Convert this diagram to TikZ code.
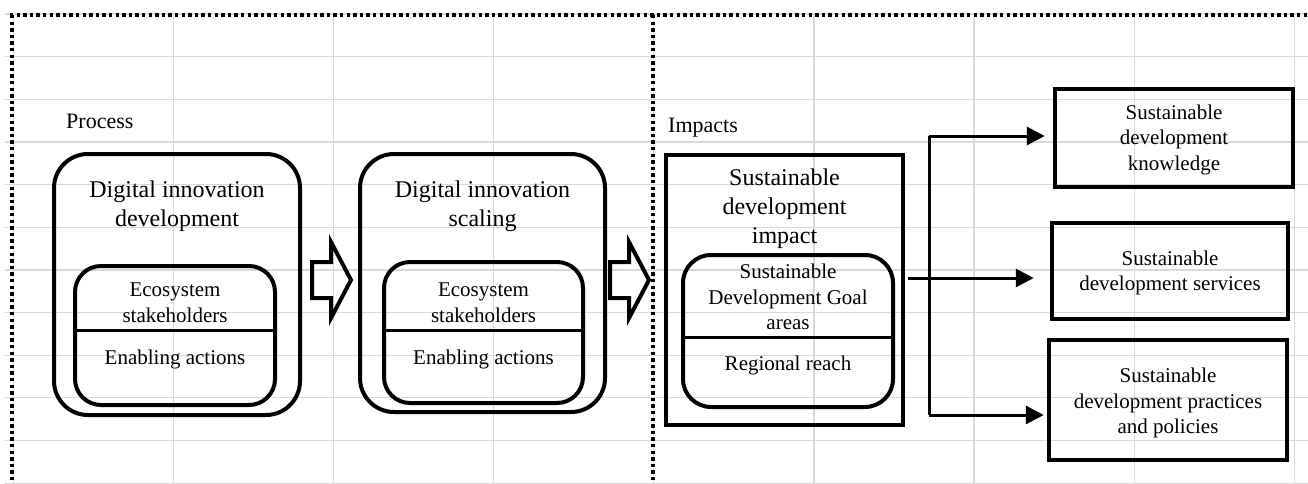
\documentclass[tikz,border=0pt]{standalone}
\usepackage{fontspec}
\setmainfont{Liberation Serif}
\usetikzlibrary{arrows.meta}

\begin{document}
\begin{tikzpicture}[x=1pt,y=-1pt,
  gridline/.style={draw=black!15, line width=1.2pt},
  framedots/.style={line width=3.5pt, dash pattern=on 3.4pt off 3.2pt},
  outerbox/.style={draw, line width=4pt, rounded corners=34pt, inner sep=0pt},
  innerbox/.style={draw, line width=4pt, rounded corners=26pt, inner sep=0pt},
  plainbox/.style={draw, line width=4.5pt, inner sep=0pt},
  divider/.style={line width=3pt},
  title/.style={align=center, font=\fontsize{24}{29}\selectfont, inner sep=0pt},
  sectionlabel/.style={font=\fontsize{22}{26}\selectfont, inner sep=0pt, anchor=west},
  body/.style={align=center, font=\fontsize{21}{25.5}\selectfont, inner sep=0pt},
  blockarrow/.style={draw, line width=4pt, line join=miter},
  link/.style={line width=3pt, -{Triangle[length=18pt,width=18pt]}},
  trunk/.style={line width=3pt},
]
\useasboundingbox (0,0) rectangle (1308,484);

% spreadsheet grid in the background
\foreach \i in {0,...,8}
  \draw[gridline] ({13.4+160.1*\i},14) -- ({13.4+160.1*\i},484);
\foreach \j in {0,...,11}
  \draw[gridline] (5,{14+42.65*\j}) -- (1308,{14+42.65*\j});

% dotted frame: process part and impacts part
\draw[framedots] (10,15) -- (1308,15);
\draw[framedots] (12,15) -- (12,484);
\draw[framedots] (653,15) -- (653,484);

% ---------- process ----------
\node[sectionlabel] (proc) at (66,121) {Process};

\node[outerbox, minimum width=246pt, minimum height=261pt] (dev) at (177,284.5) {};
\node[title] (devt) at (177,206) {Digital innovation\\development};
\node[innerbox, minimum width=200pt, minimum height=139pt] (devin) at (175,335.5) {};
\node[body] (deveco) at (175,302.5) {Ecosystem\\stakeholders};
\node[body] (devact) at (175,359) {Enabling actions};
\coordinate (dvy) at (0,330);
\draw[divider] (devin.west |- dvy) -- (devin.east |- dvy);

\node[outerbox, minimum width=245pt, minimum height=258pt] (scl) at (482.5,283) {};
\node[title] (sclt) at (482.5,206) {Digital innovation\\scaling};
\node[innerbox, minimum width=199pt, minimum height=141pt] (sclin) at (483.5,332.5) {};
\node[body] (scleco) at (483.5,302.5) {Ecosystem\\stakeholders};
\node[body] (sclact) at (483.5,359) {Enabling actions};
\draw[divider] (sclin.west |- dvy) -- (sclin.east |- dvy);

% block arrows between the stages
\coordinate (ba1) at (312,280);
\coordinate (ba2) at (610,280);
\foreach \c in {ba1,ba2}
  \draw[blockarrow] (\c) ++(0,-18) -- ++(19,0) -- ++(0,-20) -- ++(20,38)
    -- ++(-20,38) -- ++(0,-20) -- ++(-19,0) -- cycle;

% ---------- impacts ----------
\node[sectionlabel] (imp) at (668,128) {Impacts};

\node[plainbox, line width=4pt, minimum width=237pt, minimum height=270pt] (sdi) at (784.5,290) {};
\node[title] (sdit) at (784.5,209) {Sustainable\\development\\impact};
\node[innerbox, rounded corners=28pt, minimum width=210pt, minimum height=152pt] (sdg) at (788,331) {};
\node[body] (sdgt) at (788,297) {Sustainable\\Development Goal\\areas};
\node[body] (reach) at (788,365) {Regional reach};
\coordinate (sdy) at (0,337);
\draw[divider] (sdg.west |- sdy) -- (sdg.east |- sdy);

\node[plainbox, minimum width=238pt, minimum height=98pt] (know) at (1174,138) {};
\node[body] (knowt) at (1174,139.5) {Sustainable\\development\\knowledge};
\node[plainbox, minimum width=236pt, minimum height=96pt] (serv) at (1170,271) {};
\node[body] (servt) at (1170,273) {Sustainable\\development services};
\node[plainbox, minimum width=238pt, minimum height=120pt] (prac) at (1168,400) {};
\node[body] (pract) at (1168,403) {Sustainable\\development practices\\and policies};

% connectors to the impact areas
\coordinate (jt) at (929,136);
\coordinate (jb) at (929,415);
\coordinate (ms) at (908,278);
\draw[trunk] (jt) -- (jb);
\draw[link, shorten >=8pt] (jt) -- (jt -| know.west);
\draw[link, shorten >=16pt] (ms) -- (ms -| serv.west);
\draw[link, shorten >=3pt] (jb) -- (jb -| prac.west);

\end{tikzpicture}
\end{document}
